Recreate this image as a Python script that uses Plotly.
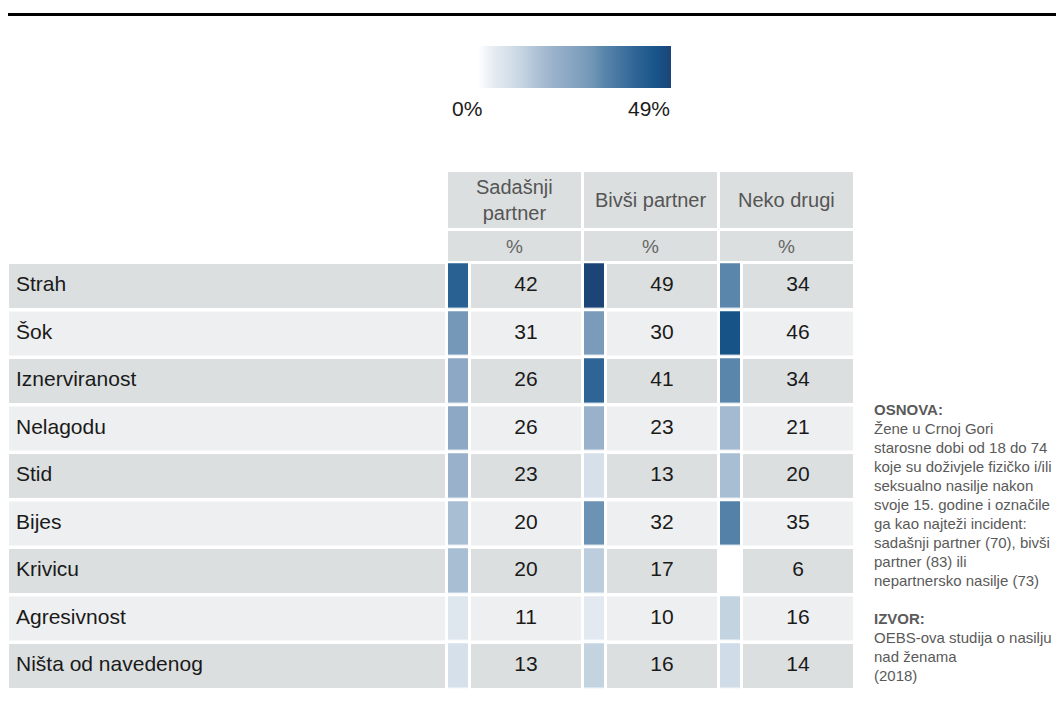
import plotly.graph_objects as go

# --- data -------------------------------------------------------------
reactions = ["Strah", "Šok", "Iznerviranost", "Nelagodu", "Stid", "Bijes",
             "Krivicu", "Agresivnost", "Ništa od navedenog"]
groups = ["Sadašnji<br>partner", "Bivši partner", "Neko drugi"]
sadasnji = [42, 31, 26, 26, 23, 20, 20, 11, 13]
bivsi = [49, 30, 41, 23, 13, 32, 17, 10, 16]
neko_drugi = [34, 46, 34, 21, 20, 35, 6, 16, 14]
unit = "%"

note_lines = [
    "<b>OSNOVA:</b>",
    "Žene u Crnoj Gori",
    "starosne dobi od 18 do 74",
    "koje su doživjele fizičko i/ili",
    "seksualno nasilje nakon",
    "svoje 15. godine i označile",
    "ga kao najteži incident:",
    "sadašnji partner (70), bivši",
    "partner (83) ili",
    "nepartnersko nasilje (73)",
    "",
    "<b>IZVOR:</b>",
    "OEBS-ova studija o nasilju",
    "nad ženama",
    "(2018)",
]

# --- layout constants (page pixel space) ------------------------------
PAGE_W, PAGE_H, BODY = 1064, 708, 8      # the html body has an 8px margin
W, H = PAGE_W - 2 * BODY, PAGE_H - 2 * BODY
FONT = "Liberation Sans, Arial, sans-serif"
ROW0, PITCH, ROW_H = 286, 47.5, 44
LABEL_X0, LABEL_X1 = 9, 445
COL0, COL_STEP, SW_W, CELL_OFF, CELL_W = 448, 136, 20, 23, 110
DARK, LIGHT = "#DCDFE0", "#EEEFF0"

series = [sadasnji, bivsi, neko_drugi]
n = len(reactions)
row_y = [ROW0 + i * PITCH for i in range(n)]
row_bg = [DARK if i % 2 == 0 else LIGHT for i in range(n)]
zmax = max(max(s) for s in series)

fig = go.Figure()

# row backgrounds for the label column
fig.add_trace(go.Bar(
    y=row_y, x=[LABEL_X1 - LABEL_X0] * n, base=LABEL_X0, orientation="h",
    width=ROW_H, marker=dict(color=row_bg, line_width=0), hoverinfo="skip",
))

# value cells + value text
for g, vals in enumerate(series):
    left = COL0 + g * COL_STEP + CELL_OFF
    fig.add_trace(go.Bar(
        y=row_y, x=[CELL_W] * n, base=left, orientation="h",
        width=ROW_H, marker=dict(color=row_bg, line_width=0), hoverinfo="skip",
    ))
    fig.add_trace(go.Scatter(
        x=[left + CELL_W / 2] * n, y=row_y, mode="text",
        text=[str(v) for v in vals], textposition="middle center",
        textfont=dict(family=FONT, size=21, color="#1a1a1a"), hoverinfo="skip",
    ))

# colour swatches
fig.add_trace(go.Heatmap(
    z=[list(r) for r in zip(*series)],
    x0=COL0 + SW_W / 2, dx=COL_STEP, y0=ROW0, dy=PITCH,
    xgap=COL_STEP - SW_W, ygap=PITCH - ROW_H,
    coloraxis="coloraxis", hoverinfo="skip",
))

# header cells
for g, name in enumerate(groups):
    left = COL0 + g * COL_STEP
    for yc, hh in [(200, 56), (246, 30)]:
        fig.add_trace(go.Bar(
            y=[yc], x=[CELL_OFF + CELL_W], base=left, orientation="h", width=hh,
            marker=dict(color=DARK, line_width=0), hoverinfo="skip",
        ))
    fig.add_annotation(x=left + (CELL_OFF + CELL_W) / 2, y=200, text=name,
                       showarrow=False, font=dict(family=FONT, size=20, color="#555555"))
    fig.add_annotation(x=left + (CELL_OFF + CELL_W) / 2, y=246, text=unit,
                       showarrow=False, font=dict(family=FONT, size=19, color="#666666"))

# row labels
fig.add_trace(go.Scatter(
    x=[LABEL_X0 + 7] * n, y=row_y, mode="text", text=reactions,
    textposition="middle right",
    textfont=dict(family=FONT, size=21, color="#1a1a1a"), hoverinfo="skip",
))

# colour legend labels
fig.add_annotation(x=450, y=108, xanchor="left", text="0%", showarrow=False,
                   font=dict(family=FONT, size=21, color="#1a1a1a"))
fig.add_annotation(x=672, y=108, xanchor="right", text=f"{zmax}%", showarrow=False,
                   font=dict(family=FONT, size=21, color="#1a1a1a"))

# notes on the right
for i, line in enumerate(note_lines):
    if line:
        fig.add_annotation(x=872, y=409 + i * 19, xanchor="left", text=line,
                           showarrow=False,
                           font=dict(family=FONT, size=15, color="#5a5a5a"))

# top rule
fig.add_shape(type="line", x0=BODY, x1=PAGE_W, y0=14.5, y1=14.5,
              line=dict(color="black", width=3))

fig.update_layout(
    width=W, height=H, margin=dict(l=0, r=0, t=0, b=0),
    paper_bgcolor="white", plot_bgcolor="white",
    barmode="overlay", showlegend=False,
    xaxis=dict(range=[BODY, BODY + W], visible=False, fixedrange=True),
    yaxis=dict(range=[BODY + H, BODY], visible=False, fixedrange=True),
    coloraxis=dict(
        cmin=0, cmax=zmax,
        colorscale=[
            [0.0, "#FFFFFF"], [0.122, "#FFFFFF"], [0.204, "#E2E9F0"],
            [0.265, "#D6E0EA"], [0.327, "#C3D3E0"], [0.408, "#A8BED3"],
            [0.469, "#9AB1CB"], [0.531, "#8CA8C4"], [0.633, "#7598B8"],
            [0.694, "#5A86AB"], [0.837, "#2F6596"], [0.939, "#175387"],
            [1.0, "#1D4477"],
        ],
        colorbar=dict(
            orientation="h", x=(451 - BODY) / W, xanchor="left",
            y=1 - (46 - BODY) / H, yanchor="top",
            len=220, lenmode="pixels", thickness=42, thicknessmode="pixels",
            xpad=0, ypad=0, outlinewidth=0, ticks="", showticklabels=False,
        ),
    ),
)

fig.write_html("out.html")
